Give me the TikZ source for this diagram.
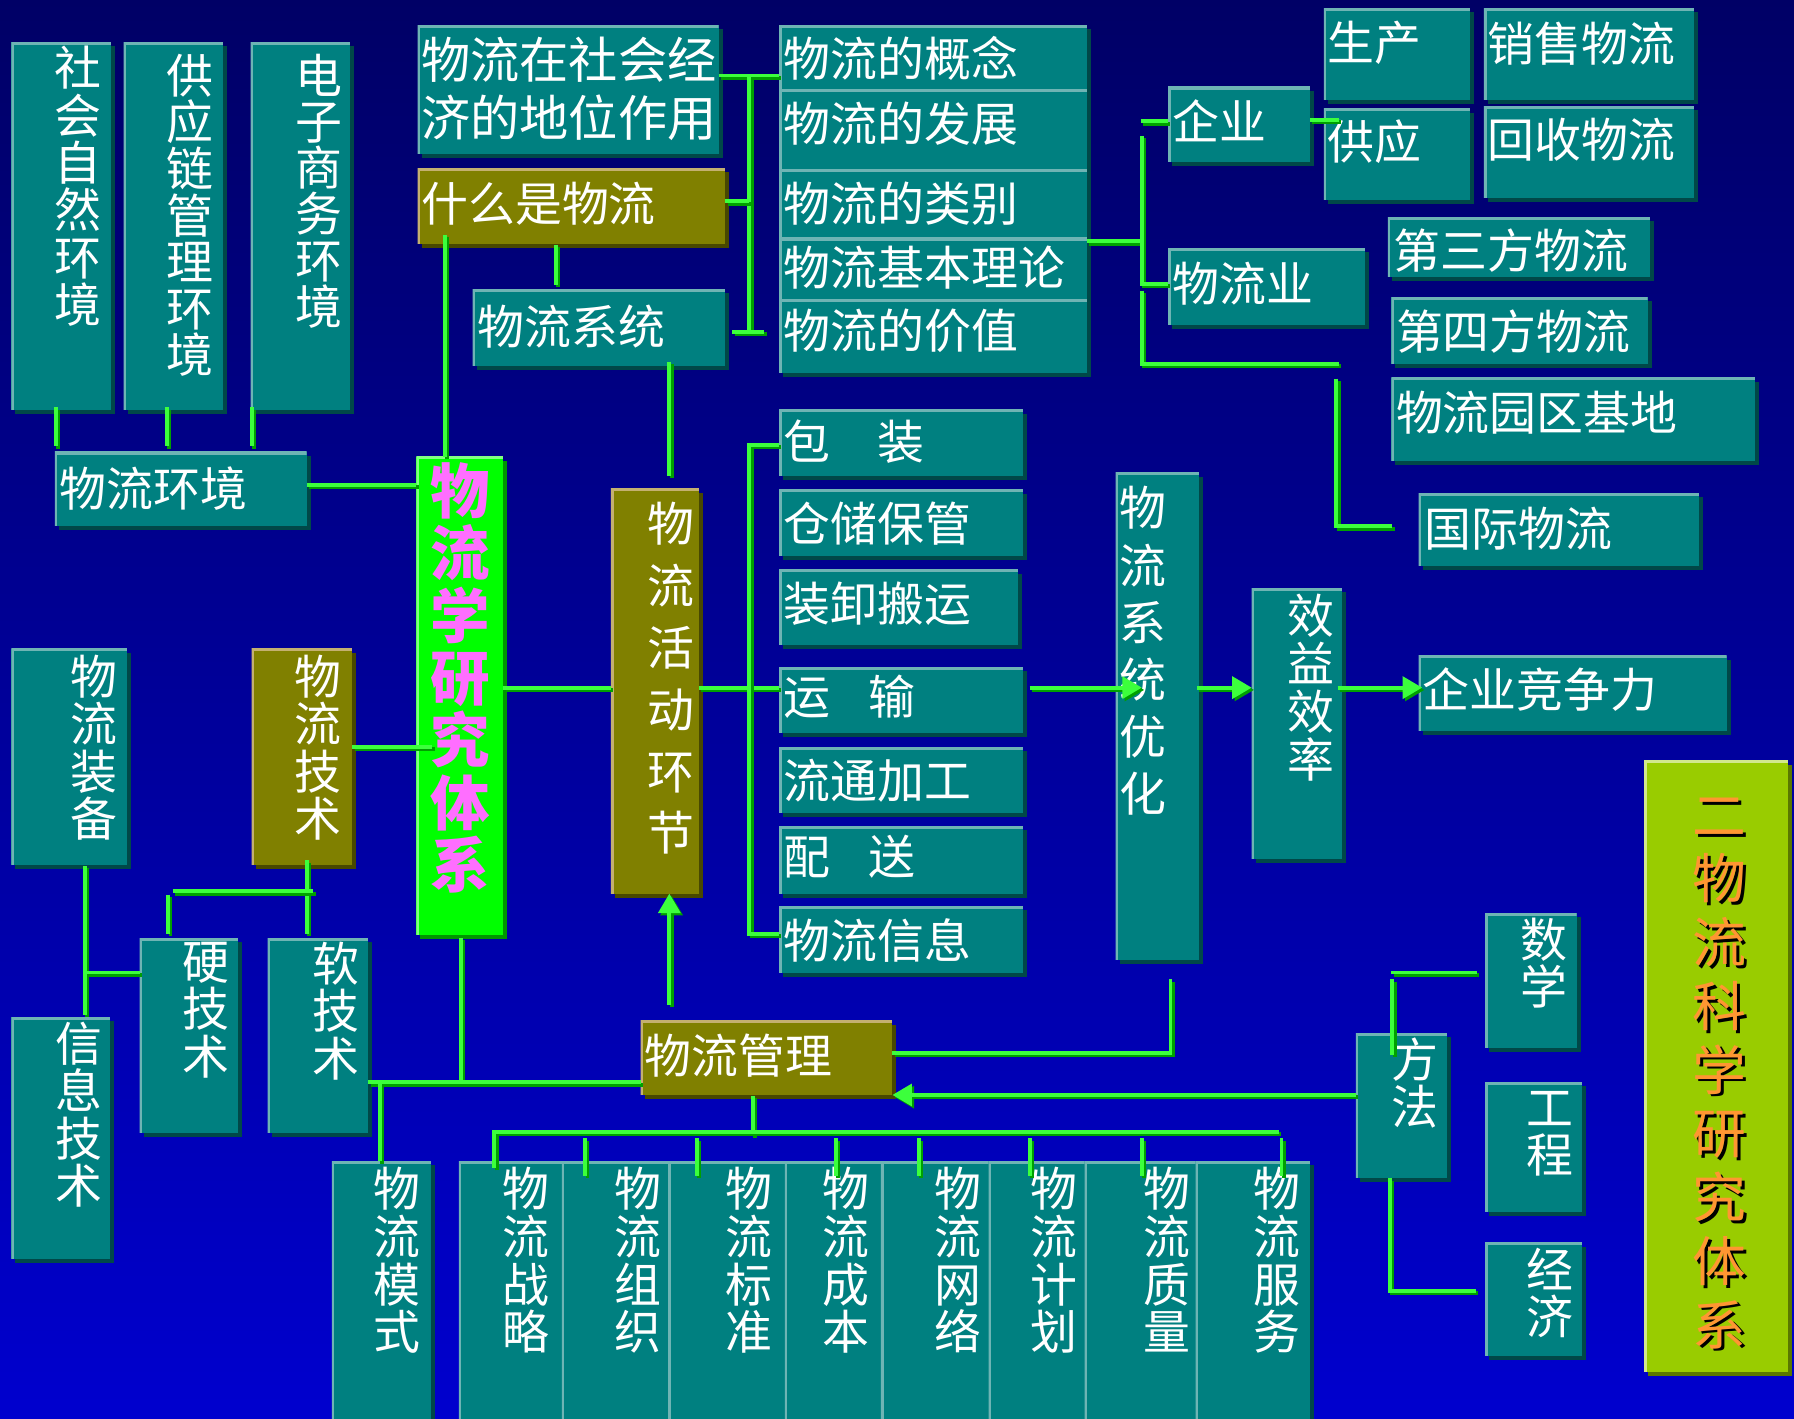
\documentclass[tikz,border=0pt]{standalone}
\usepackage{fontspec}
\newfontfamily\cjk{Noto Sans CJK SC}
\usetikzlibrary{fit,shadows,arrows.meta}
\definecolor{bgtop}{RGB}{0,0,102}
\definecolor{bgbot}{RGB}{0,0,206}
\definecolor{tealc}{RGB}{0,128,128}
\definecolor{tlight}{RGB}{110,180,180}
\definecolor{tdark}{RGB}{0,72,72}
\definecolor{olivec}{RGB}{128,128,0}
\definecolor{olight}{RGB}{196,176,112}
\definecolor{odark}{RGB}{72,72,0}
\definecolor{gboxc}{RGB}{0,255,0}
\definecolor{glight}{RGB}{130,255,130}
\definecolor{gdark}{RGB}{0,150,0}
\definecolor{ygc}{RGB}{153,204,0}
\definecolor{yglight}{RGB}{210,232,140}
\definecolor{ygdark}{RGB}{90,120,0}
\definecolor{cgreen}{RGB}{60,255,60}
\definecolor{cdark}{RGB}{0,160,0}
\definecolor{magc}{RGB}{255,110,255}
\definecolor{orc}{RGB}{255,150,50}
\tikzset{
  boxbase/.style n args={3}{rectangle, inner sep=0pt, outer sep=0pt, fill=#1,
    general shadow={fill=#3, shadow xshift=3.5pt, shadow yshift=-3.5pt},
    path picture={\draw[draw=#2, line width=4.5pt] (path picture bounding box.south west) -- (path picture bounding box.north west) -- (path picture bounding box.north east);}},
  tb/.style={boxbase={tealc}{tlight}{tdark}},
  ob/.style={boxbase={olivec}{olight}{odark}},
  gb/.style={boxbase={gboxc}{glight}{gdark}},
  yb/.style={boxbase={ygc}{yglight}{ygdark}},
  ht/.style={font=\cjk\fontsize{41}{41}\selectfont, text=white, inner sep=0pt, anchor=west},
  vt/.style={font=\cjk\fontsize{41}{#1}\selectfont, text=white, inner sep=0pt, anchor=north, align=center},
  vt/.default=41.5,
  conn/.style={draw=cgreen, line width=3.4pt, preaction={draw=cdark, line width=3.4pt, transform canvas={shift={(2pt,-2pt)}}}},
  arr/.style={-{Triangle[length=17pt,width=19pt]}},
}
\begin{document}
\begin{tikzpicture}[x=1pt,y=-1pt]
\useasboundingbox (0,0) rectangle (1568,1240);
\clip (0,0) rectangle (1568,1240);
\shade[top color=bgtop, bottom color=bgbot] (0,0) rectangle (1568,1240);

% ---------- boxes ----------
\node[tb, fit={(10,37) (97,358)}] (b1) {};
\node[tb, fit={(108,37) (195,358)}] (b2) {};
\node[tb, fit={(219,37) (306,358)}] (b3) {};
\node[tb, fit={(48,395) (268,460)}] (b4) {};
\node[tb, fit={(365,22) (628,135)}] (b5) {};
\node[ob, fit={(365,147) (634,213)}] (b6) {};
\node[tb, fit={(413,253) (634,320)}] (b7) {};
\node[tb, fit={(681,22) (950,78)}] (b8) {};
\node[tb, fit={(681,78) (950,148)}] (b9) {};
\node[tb, fit={(681,148) (950,208)}] (b10) {};
\node[tb, fit={(681,208) (950,262)}] (b11) {};
\node[tb, fit={(681,262) (950,326)}] (b12) {};
\node[tb, fit={(1021,76) (1145,142)}] (b13) {};
\node[tb, fit={(1157,7) (1285,87)}] (b14) {};
\node[tb, fit={(1297,7) (1481,87)}] (b15) {};
\node[tb, fit={(1157,95) (1285,175)}] (b16) {};
\node[tb, fit={(1297,93) (1481,173)}] (b17) {};
\node[tb, fit={(1021,217) (1193,284)}] (b18) {};
\node[tb, fit={(1213,190) (1442,242)}] (b19) {};
\node[tb, fit={(1216,260) (1440,318)}] (b20) {};
\node[tb, fit={(1216,330) (1534,403)}] (b21) {};
\node[tb, fit={(1240,431) (1485,495)}] (b22) {};
\node[gb, fit={(364,399) (440,817)}] (b23) {};
\node[ob, fit={(534,427) (611,781)}] (b24) {};
\node[tb, fit={(681,358) (894,416)}] (b25) {};
\node[tb, fit={(681,428) (894,486)}] (b26) {};
\node[tb, fit={(681,498) (890,564)}] (b27) {};
\node[tb, fit={(681,583) (894,641)}] (b28) {};
\node[tb, fit={(681,653) (894,711)}] (b29) {};
\node[tb, fit={(681,722) (894,781)}] (b30) {};
\node[tb, fit={(681,792) (894,850)}] (b31) {};
\node[tb, fit={(975,413) (1048,839)}] (b32) {};
\node[tb, fit={(1094,514) (1173,751)}] (b33) {};
\node[tb, fit={(1240,573) (1509,639)}] (b34) {};
\node[tb, fit={(10,567) (111,756)}] (b35) {};
\node[ob, fit={(220,567) (308,756)}] (b36) {};
\node[tb, fit={(10,889) (96,1100)}] (b37) {};
\node[tb, fit={(122,820) (208,990)}] (b38) {};
\node[tb, fit={(234,820) (322,990)}] (b39) {};
\node[ob, fit={(560,892) (780,957)}] (b40) {};
\node[tb, fit={(1185,903) (1265,1030)}] (b41) {};
\node[tb, fit={(1298,798) (1378,916)}] (b42) {};
\node[tb, fit={(1298,946) (1383,1059)}] (b43) {};
\node[tb, fit={(1298,1086) (1383,1185)}] (b44) {};
\node[yb, fit={(1437,665) (1563,1199)}] (b45) {};
\node[tb, fit={(290,1015) (377,1260)}] (b46) {};
\node[tb, fit={(401,1015) (491,1260)}] (b47) {};
\node[tb, fit={(491,1015) (584,1260)}] (b48) {};
\node[tb, fit={(584,1015) (686,1260)}] (b49) {};
\node[tb, fit={(686,1015) (770,1260)}] (b50) {};
\node[tb, fit={(770,1015) (864,1260)}] (b51) {};
\node[tb, fit={(864,1015) (948,1260)}] (b52) {};
\node[tb, fit={(948,1015) (1045,1260)}] (b53) {};
\node[tb, fit={(1045,1015) (1145,1260)}] (b54) {};

% ---------- texts ----------
\node[vt=41.5] (t1) at (68,40) {社\\会\\自\\然\\环\\境};
\node[vt=40.7] (t2) at (166,47) {供\\应\\链\\管\\理\\环\\境};
\node[vt=40.4] (t3) at (279,47) {电\\子\\商\\务\\环\\境};
\node[ht] (t4) at (52,427) {物流环境};
\node[ht, align=left, font=\cjk\fontsize{43}{51}\selectfont] (t5) at (368,77.5) {物流在社会经\\济的地位作用};
\node[ht] (t6) at (368,178) {什么是物流};
\node[ht] (t7) at (417,285) {物流系统};
\node[ht] (t8) at (685,51) {物流的概念};
\node[ht] (t9) at (685,108) {物流的发展};
\node[ht] (t10) at (685,178) {物流的类别};
\node[ht] (t11) at (685,234) {物流基本理论};
\node[ht] (t12) at (685,289) {物流的价值};
\node[ht] (t13) at (1025,106) {企业};
\node[ht] (t14) at (1160,37) {生产};
\node[ht] (t15) at (1300,38) {销售物流};
\node[ht] (t16) at (1160,124) {供应};
\node[ht] (t17) at (1300,122) {回收物流};
\node[ht] (t18) at (1025,248) {物流业};
\node[ht] (t19) at (1218,219) {第三方物流};
\node[ht] (t20) at (1220,290) {第四方物流};
\node[ht] (t21) at (1220,361) {物流园区基地};
\node[ht] (t22) at (1245,462) {国际物流};
\node[vt=54.5, font=\cjk\bfseries\fontsize{52}{54.5}\selectfont, text=magc] (t23) at (402,404) {物\\流\\学\\研\\究\\体\\系};
\node[vt=54] (t24) at (586,439) {物\\流\\活\\动\\环\\节};
\node[ht] (t25) at (685,386) {包\hspace{41pt}装};
\node[ht] (t26) at (685,458) {仓储保管};
\node[ht] (t27) at (685,528) {装卸搬运};
\node[ht] (t28) at (685,609) {运\hspace{33pt}输};
\node[ht] (t29) at (685,682) {流通加工};
\node[ht] (t30) at (685,749) {配\hspace{33pt}送};
\node[ht] (t31) at (685,822) {物流信息};
\node[vt=50] (t32) at (999,425) {物\\流\\系\\统\\优\\化};
\node[vt=42] (t33) at (1146,519) {效\\益\\效\\率};
\node[ht] (t34) at (1243,603) {企业竞争力};
\node[vt=41.5] (t35) at (82,572) {物\\流\\装\\备};
\node[vt=41.5] (t36) at (278,572) {物\\流\\技\\术};
\node[vt=41.5] (t37) at (69,893) {信\\息\\技\\术};
\node[vt=41.5] (t38) at (180,823) {硬\\技\\术};
\node[vt=41.5] (t39) at (293.5,823) {软\\技\\术};
\node[ht] (t40) at (563,923) {物流管理};
\node[vt=41] (t41) at (1237,907) {方\\法};
\node[vt=41] (t42) at (1349.5,802) {数\\学};
\node[vt=41] (t43) at (1355,954) {工\\程};
\node[vt=41] (t44) at (1355,1091) {经\\济};
\node[vt=55.7, font=\cjk\fontsize{47}{55.7}\selectfont, text=black] (t45s) at (1505.5,699.5) {二\\物\\流\\科\\学\\研\\究\\体\\系};
\node[vt=55.7, font=\cjk\fontsize{47}{55.7}\selectfont, text=orc] (t45) at (1503,697) {二\\物\\流\\科\\学\\研\\究\\体\\系};
\node[vt=41.7] (t46) at (347,1020) {物\\流\\模\\式};
\node[vt=41.7] (t47) at (459.5,1020) {物\\流\\战\\略};
\node[vt=41.7] (t48) at (557.6,1020) {物\\流\\组\\织};
\node[vt=41.7] (t49) at (655,1020) {物\\流\\标\\准};
\node[vt=41.7] (t50) at (739,1020) {物\\流\\成\\本};
\node[vt=41.7] (t51) at (837,1020) {物\\流\\网\\络};
\node[vt=41.7] (t52) at (921,1020) {物\\流\\计\\划};
\node[vt=41.7] (t53) at (1019.5,1020) {物\\流\\质\\量};
\node[vt=41.7] (t54) at (1116,1020) {物\\流\\服\\务};

% ---------- connectors ----------
\draw[conn] (49,356) -- (49,390);
\draw[conn] (146,356) -- (146,390);
\draw[conn] (220,356) -- (220,390);
\draw[conn] (b4.east |- 0,424) -- (b23.west |- 0,424);
\draw[conn] (389,205) -- (b23.north -| 389,0);
\draw[conn] (486,214) -- (486,249);
\draw[conn] (b5.east |- 0,66) -- (b8.west |- 0,66);
\draw[conn] (655,66) -- (655,290);
\draw[conn] (b6.east |- 0,176) -- (655,176);
\draw[conn] (640,290) -- (668,290);
\draw[conn] (585,316) -- (585,416);
\draw[conn] (b10.east |- 0,211) -- (998,211);
\draw[conn] (998,119) -- (998,248) -- (b18.west |- 0,248);
\draw[conn] (997,106) -- (b13.west |- 0,106);
\draw[conn] (b13.east |- 0,105) -- (1170,105);
\draw[conn] (998,254) -- (998,318) -- (1170,318);
\draw[conn] (1168,331) -- (1168,460) -- (1217,460);
\draw[conn] (b23.east |- 0,601) -- (b24.west |- 0,601);
\draw[conn] (b24.east |- 0,601) -- (b28.west |- 0,601);
\draw[conn] (681,389) -- (655,389) -- (655,816) -- (681,816);
\draw[conn,arr] (900,601) -- (998,601);
\draw[conn,arr] (1046,601) -- (b33.west |- 0,601);
\draw[conn,arr] (1169,601) -- (1243,601);
\draw[conn] (b36.east |- 0,653) -- (378,653);
\draw[conn] (74,757) -- (74,887);
\draw[conn] (76,850) -- (b38.west |- 0,850);
\draw[conn] (268,752) -- (268,816);
\draw[conn] (151,779) -- (274,779);
\draw[conn] (147,782) -- (147,816);
\draw[conn] (403,820) -- (403,946);
\draw[conn] (b39.east |- 0,946) -- (b40.west |- 0,946);
\draw[conn] (332,946) -- (b46.north -| 332,0);
\draw[conn,arr] (585,878) -- (b24.south -| 585,0);
\draw[conn] (b40.east |- 0,920) -- (1023,920) -- (1023,856);
\draw[conn,arr] (b41.west |- 0,957) -- (b40.east |- 0,957);
\draw[conn] (658,958) -- (658,993);
\draw[conn] (432,1021) -- (432,989) -- (1118,989);
\foreach \xx in {511.5,609,730.5,803,900,998,1120}
  \draw[conn] (\xx,995) -- (\xx,1028);
\draw[conn] (1216,850) -- (1291,850);
\draw[conn] (1217,856) -- (1217,922);
\draw[conn] (b41.south -| 1215,0) -- (1215,1128) -- (1290,1128);
\end{tikzpicture}
\end{document}
